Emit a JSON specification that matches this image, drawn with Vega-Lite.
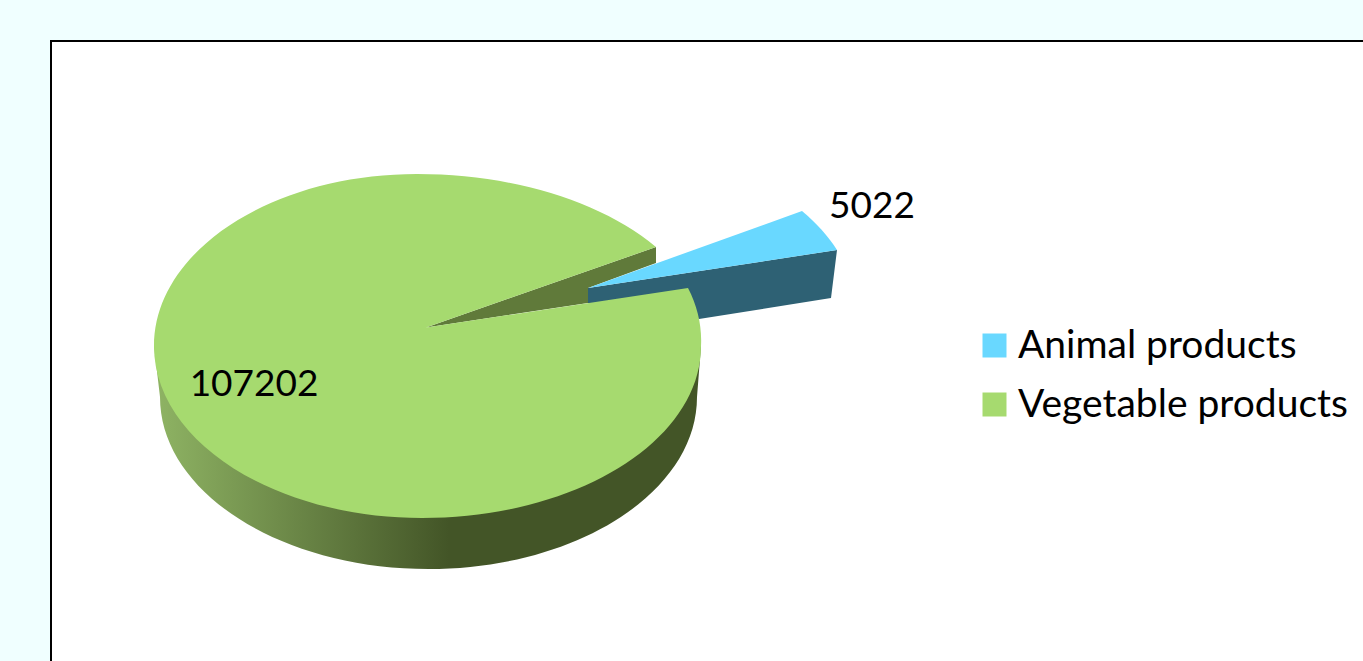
{
  "$schema": "https://vega.github.io/schema/vega-lite/v6.json",
  "autosize": {"type": "none"},
  "padding": {"left": 51, "top": 41, "right": 0, "bottom": 0},
  "width": 1322,
  "height": 630,
  "background": "#F0FFFF",
  "view": {"fill": "#FFFFFF", "stroke": "#000000", "strokeWidth": 2},
  "config": {"font": "Lato"},
  "data": {"values": [
    {"category": "Animal products", "value": 5022},
    {"category": "Vegetable products", "value": 107202}
  ]},
  "layer": [
    {
      "mark": {"type": "point", "filled": true, "shape": "square", "size": 0, "opacity": 1, "strokeWidth": 0},
      "encoding": {
        "color": {
          "field": "category", "type": "nominal",
          "scale": {"domain": ["Animal products", "Vegetable products"], "range": ["#69D8FF", "#A6DA6F"]},
          "legend": {
            "title": null, "orient": "none", "legendX": 924, "legendY": 285,
            "symbolType": "square", "symbolSize": 576, "symbolStrokeWidth": 0, "symbolOpacity": 1,
            "labelFontSize": 39, "labelFont": "Lato", "labelColor": "#000000", "labelLimit": 500,
            "labelOffset": 4, "rowPadding": 19
          }
        }
      }
    },
    {
      "transform": [{"filter": "datum.category === 'Vegetable products'"}],
      "mark": {"type": "point", "filled": true, "size": 4, "opacity": 1, "strokeWidth": 0,
        "shape": "M-558 -10L-552 41A268.5 172 0 0 0 -15 41L-11 -10Z",
        "fill": {"gradient": "linear", "x1": 0, "y1": 0, "x2": 1, "y2": 0, "stops": [
          {"offset": 0, "color": "#8FB464"},
          {"offset": 0.54, "color": "#435527"},
          {"offset": 1, "color": "#435527"}
        ]}}
    },
    {
      "transform": [{"filter": "datum.category === 'Vegetable products'"}],
      "mark": {"type": "point", "filled": true, "size": 4, "opacity": 1, "strokeWidth": 0, "fill": "#607A3A",
        "shape": "M-286 -28.5L-56 -109L-56 -93L-124 -68L-124 -53Z"}
    },
    {
      "transform": [{"filter": "datum.category === 'Animal products'"}],
      "mark": {"type": "point", "filled": true, "size": 4, "opacity": 1, "strokeWidth": 0, "fill": "#2E6174",
        "shape": "M-124 -68L125 -106L119 -58L-13 -37L-124 -53Z"}
    },
    {
      "transform": [{"filter": "datum.category === 'Animal products'"}],
      "mark": {"type": "point", "filled": true, "size": 4, "opacity": 1, "strokeWidth": 0,
        "shape": "M-124 -68L90 -145A280 172 0 0 1 125 -106Z"},
      "encoding": {"color": {"field": "category", "type": "nominal", "legend": null}}
    },
    {
      "transform": [{"filter": "datum.category === 'Vegetable products'"}],
      "mark": {"type": "point", "filled": true, "size": 4, "opacity": 1, "strokeWidth": 0,
        "shape": "M-286 -28.5L-56 -109A292 172 0 0 0 -295 -182A263 172 0 0 0 -558 -10A268 172 0 0 0 -290 162A279 172 0 0 0 -11 -10A279 172 0 0 0 -24 -68Z"},
      "encoding": {"color": {"field": "category", "type": "nominal", "legend": null}}
    },
    {
      "transform": [{"filter": "datum.category === 'Animal products'"}],
      "mark": {"type": "text", "fontSize": 37, "font": "Lato", "color": "#000000", "dx": 160, "dy": -149},
      "encoding": {"text": {"field": "value", "type": "quantitative", "format": "d"}}
    },
    {
      "transform": [{"filter": "datum.category === 'Vegetable products'"}],
      "mark": {"type": "text", "fontSize": 37, "font": "Lato", "color": "#000000", "dx": -458, "dy": 29},
      "encoding": {"text": {"field": "value", "type": "quantitative", "format": "d"}}
    }
  ]
}
